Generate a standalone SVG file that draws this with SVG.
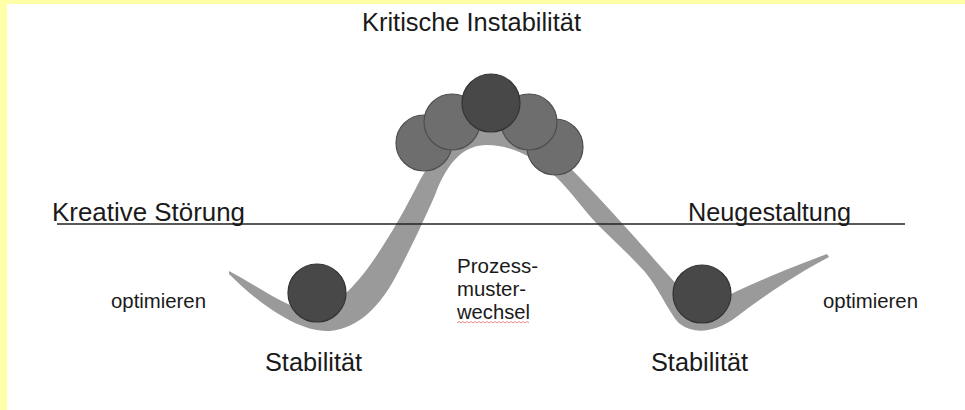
<svg xmlns="http://www.w3.org/2000/svg" width="965" height="410" viewBox="0 0 965 410">
  <style>
    .lbl { font-family: "Liberation Sans", Arial, sans-serif; fill: #1a1a1a; }
    .big { font-size: 25px; }
    .mid { font-size: 20px; }
    .ball-top { fill: #6e6e6e; stroke: #4e4e4e; stroke-width: 1.2; }
    .ball-dark { fill: #484848; stroke: #333333; stroke-width: 1.2; }
  </style>

  <!-- page background and yellow margin -->
  <rect x="0" y="0" width="965" height="410" fill="#ffffff"/>
  <rect x="0" y="0" width="965" height="4" fill="#ffffa8"/>
  <rect x="0" y="0" width="7" height="410" fill="#ffffa8"/>

  <!-- the landscape track: two valleys and one peak -->
  <g id="track">
    <path fill="#9a9a9a" d="
      M 229,271
      C 250,282 270,296 292,306
      C 305,312 318,314 330,306
      C 345,296 360,280 375,258
      C 390,236 405,210 420,180
      C 440,145 460,127 488,127
      C 515,127 540,140 560,158
      C 585,182 610,210 630,232
      C 650,254 665,272 680,288
      C 695,304 712,305 735,292
      C 765,278 800,264 827,254
      L 829,257
      C 800,272 765,295 735,318
      C 715,332 695,335 680,324
      C 670,315 660,290 645,272
      C 630,255 615,242 600,227
      C 585,212 570,190 556,177
      C 535,157 510,145 487,145
      C 465,145 448,160 435,195
      C 425,218 410,250 395,278
      C 380,305 360,328 330,331
      C 300,333 260,305 229,274
      Z"/>
  </g>

  <!-- threshold line -->
  <g id="threshold">
    <line x1="57" y1="224" x2="905" y2="224" stroke="#222222" stroke-width="1.6"/>
  </g>

  <!-- balls rolling over the peak -->
  <g id="peak-balls">
    <circle class="ball-top" cx="424" cy="143" r="28"/>
    <circle class="ball-top" cx="555" cy="147" r="28"/>
    <circle class="ball-top" cx="452" cy="122" r="28"/>
    <circle class="ball-top" cx="529" cy="122" r="28"/>
    <circle class="ball-dark" cx="491" cy="103" r="29"/>
  </g>

  <!-- balls resting in the valleys -->
  <g id="ball-left">
    <circle class="ball-dark" cx="317" cy="293" r="29"/>
  </g>
  <g id="ball-right">
    <circle class="ball-dark" cx="702" cy="294" r="29"/>
  </g>

  <!-- labels -->
  <g id="label-peak">
    <text class="lbl big" x="362" y="31" textLength="219" lengthAdjust="spacingAndGlyphs">Kritische Instabilität</text>
  </g>
  <g id="label-disturbance">
    <text class="lbl big" x="52" y="221" textLength="193" lengthAdjust="spacingAndGlyphs">Kreative Störung</text>
  </g>
  <g id="label-redesign">
    <text class="lbl big" x="688" y="221" textLength="163" lengthAdjust="spacingAndGlyphs">Neugestaltung</text>
  </g>
  <g id="label-optimize-left">
    <text class="lbl mid" x="111" y="308" textLength="95" lengthAdjust="spacingAndGlyphs">optimieren</text>
  </g>
  <g id="label-optimize-right">
    <text class="lbl mid" x="823" y="308" textLength="95" lengthAdjust="spacingAndGlyphs">optimieren</text>
  </g>
  <g id="label-stability-left">
    <text class="lbl big" x="265" y="371" textLength="97" lengthAdjust="spacingAndGlyphs">Stabilität</text>
  </g>
  <g id="label-stability-right">
    <text class="lbl big" x="651" y="371" textLength="97" lengthAdjust="spacingAndGlyphs">Stabilität</text>
  </g>
  <g id="label-change">
    <text class="lbl mid" x="457" y="273" textLength="81" lengthAdjust="spacingAndGlyphs">Prozess-</text>
    <text class="lbl mid" x="457" y="296" textLength="69" lengthAdjust="spacingAndGlyphs">muster-</text>
    <text class="lbl mid" x="457" y="319" textLength="73" lengthAdjust="spacingAndGlyphs">wechsel</text>
    <!-- spell-check squiggle -->
    <polyline fill="none" stroke="#e07a7a" stroke-width="0.9"
      points="457,323 459,321.5 461,323 463,321.5 465,323 467,321.5 469,323 471,321.5 473,323 475,321.5 477,323 479,321.5 481,323 483,321.5 485,323 487,321.5 489,323 491,321.5 493,323 495,321.5 497,323 499,321.5 501,323 503,321.5 505,323 507,321.5 509,323 511,321.5 513,323 515,321.5 517,323 519,321.5 521,323 523,321.5 525,323 527,321.5 529,323"/>
  </g>
</svg>
